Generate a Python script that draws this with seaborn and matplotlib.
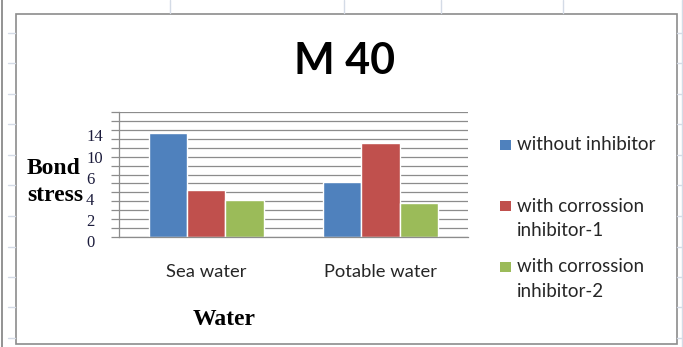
import matplotlib
matplotlib.use("Agg")
import matplotlib.pyplot as plt
import pandas as pd
import seaborn as sns
from matplotlib.patches import Rectangle
from matplotlib.lines import Line2D

# ---- data -------------------------------------------------------------
categories = ["Sea water", "Potable water"]
series = ["without inhibitor", "with corrossion\ninhibitor-1", "with corrossion\ninhibitor-2"]
without_inhibitor = [11.7, 6.2]
with_inhibitor_1 = [5.3, 10.6]
with_inhibitor_2 = [4.1, 3.8]
y_tick_labels = ["14", "10", "6", "4", "2", "0"]
colors = ["#4F81BD", "#C0504D", "#9BBB59"]

rows = []
for name, vals in zip(series, [without_inhibitor, with_inhibitor_1, with_inhibitor_2]):
    for cat, v in zip(categories, vals):
        rows.append({"Water": cat, "Bond stress": v, "Series": name})
df = pd.DataFrame(rows)

# ---- figure -----------------------------------------------------------
W, H = 683, 347
sns.set_theme(style="white")
plt.rcParams["font.family"] = ["Lato", "DejaVu Sans"]

fig = plt.figure(figsize=(W / 100, H / 100), dpi=100)
fig.patch.set_facecolor("white")


def fx(x):
    return x / W


def fy(y):
    return 1 - y / H


# worksheet grid peeking around the chart frame
grid_c = "#d4dbe6"
fig.add_artist(Line2D([fx(1.5), fx(1.5)], [0, 1], color="#8a8a8a", lw=1.3))
fig.add_artist(Line2D([fx(681.5), fx(681.5)], [0, 1], color=grid_c, lw=1.0))
for ry in [33, 63, 94, 124, 155, 185, 216, 247, 277, 307, 338]:
    fig.add_artist(Line2D([fx(8), fx(15)], [fy(ry), fy(ry)], color=grid_c, lw=1.0))
    fig.add_artist(Line2D([fx(677), fx(683)], [fy(ry), fy(ry)], color=grid_c, lw=1.0))
for cx in [170, 344, 441, 563]:
    fig.add_artist(Line2D([fx(cx), fx(cx)], [fy(0), fy(13)], color=grid_c, lw=1.0))

# chart frame
fig.add_artist(Rectangle((fx(15.5), fy(344)), fx(677) - fx(15.5), fy(13.5) - fy(344),
                         transform=fig.transFigure, fill=False, edgecolor="#8c8c8c", lw=1.2))

# ---- plot area --------------------------------------------------------
ax = fig.add_axes([fx(119), fy(236.7), (467.7 - 119) / W, (236.7 - 112.3) / H])
sns.barplot(data=df, x="Water", y="Bond stress", hue="Series", hue_order=series,
            palette=colors, width=0.66, saturation=1, errorbar=None, legend=False, ax=ax)

ax.set_ylim(0, 14)
ax.set_yticks(range(0, 15))
ax.yaxis.grid(True, color="#8c8c8c", lw=0.9)
ax.set_axisbelow(True)
ax.tick_params(axis="y", left=True, length=6, width=0.9, color="#8c8c8c",
               labelleft=False, direction="out")
ax.tick_params(axis="x", length=0, pad=20, labelsize=13.2, labelcolor="#262626")
ax.set_xlabel("")
ax.set_ylabel("")
for s in ["top", "right"]:
    ax.spines[s].set_visible(False)
for s in ["left", "bottom"]:
    ax.spines[s].set_color("#8c8c8c")
    ax.spines[s].set_linewidth(0.9)

# value axis labels
serif = ["Liberation Serif", "DejaVu Serif"]
for i, lab in enumerate(y_tick_labels):
    fig.text(fx(86), fy(137.5 + 21.16 * i), lab, ha="left", va="center",
             family=serif, fontsize=12, color="#1c1c3c")

# axis titles
fig.text(fx(27), fy(174), "Bond", ha="left", va="baseline", family=serif,
         fontsize=17, fontweight="bold", color="black")
fig.text(fx(27), fy(201), "stress", ha="left", va="baseline", family=serif,
         fontsize=17, fontweight="bold", color="black")
fig.text(fx(224.5), fy(325), "Water", ha="center", va="baseline", family=serif,
         fontsize=17, fontweight="bold", color="black")

# chart title
fig.text(fx(344.5), fy(74), "M 40", ha="center", va="baseline",
         fontsize=31, fontweight="bold", color="black")

# legend
leg_y = [145, 206, 267]
for name, col, yc in zip(series, colors, leg_y):
    fig.add_artist(Rectangle((fx(500), fy(yc + 5)), fx(511) - fx(500), fy(yc - 5) - fy(yc + 5),
                             transform=fig.transFigure, facecolor=col, edgecolor="none"))
    for j, line in enumerate(name.split("\n")):
        fig.text(fx(517), fy(yc + 24.5 * j), line, ha="left", va="center",
                 fontsize=13.5, color="#262626")

fig.savefig("out.png", dpi=100)
